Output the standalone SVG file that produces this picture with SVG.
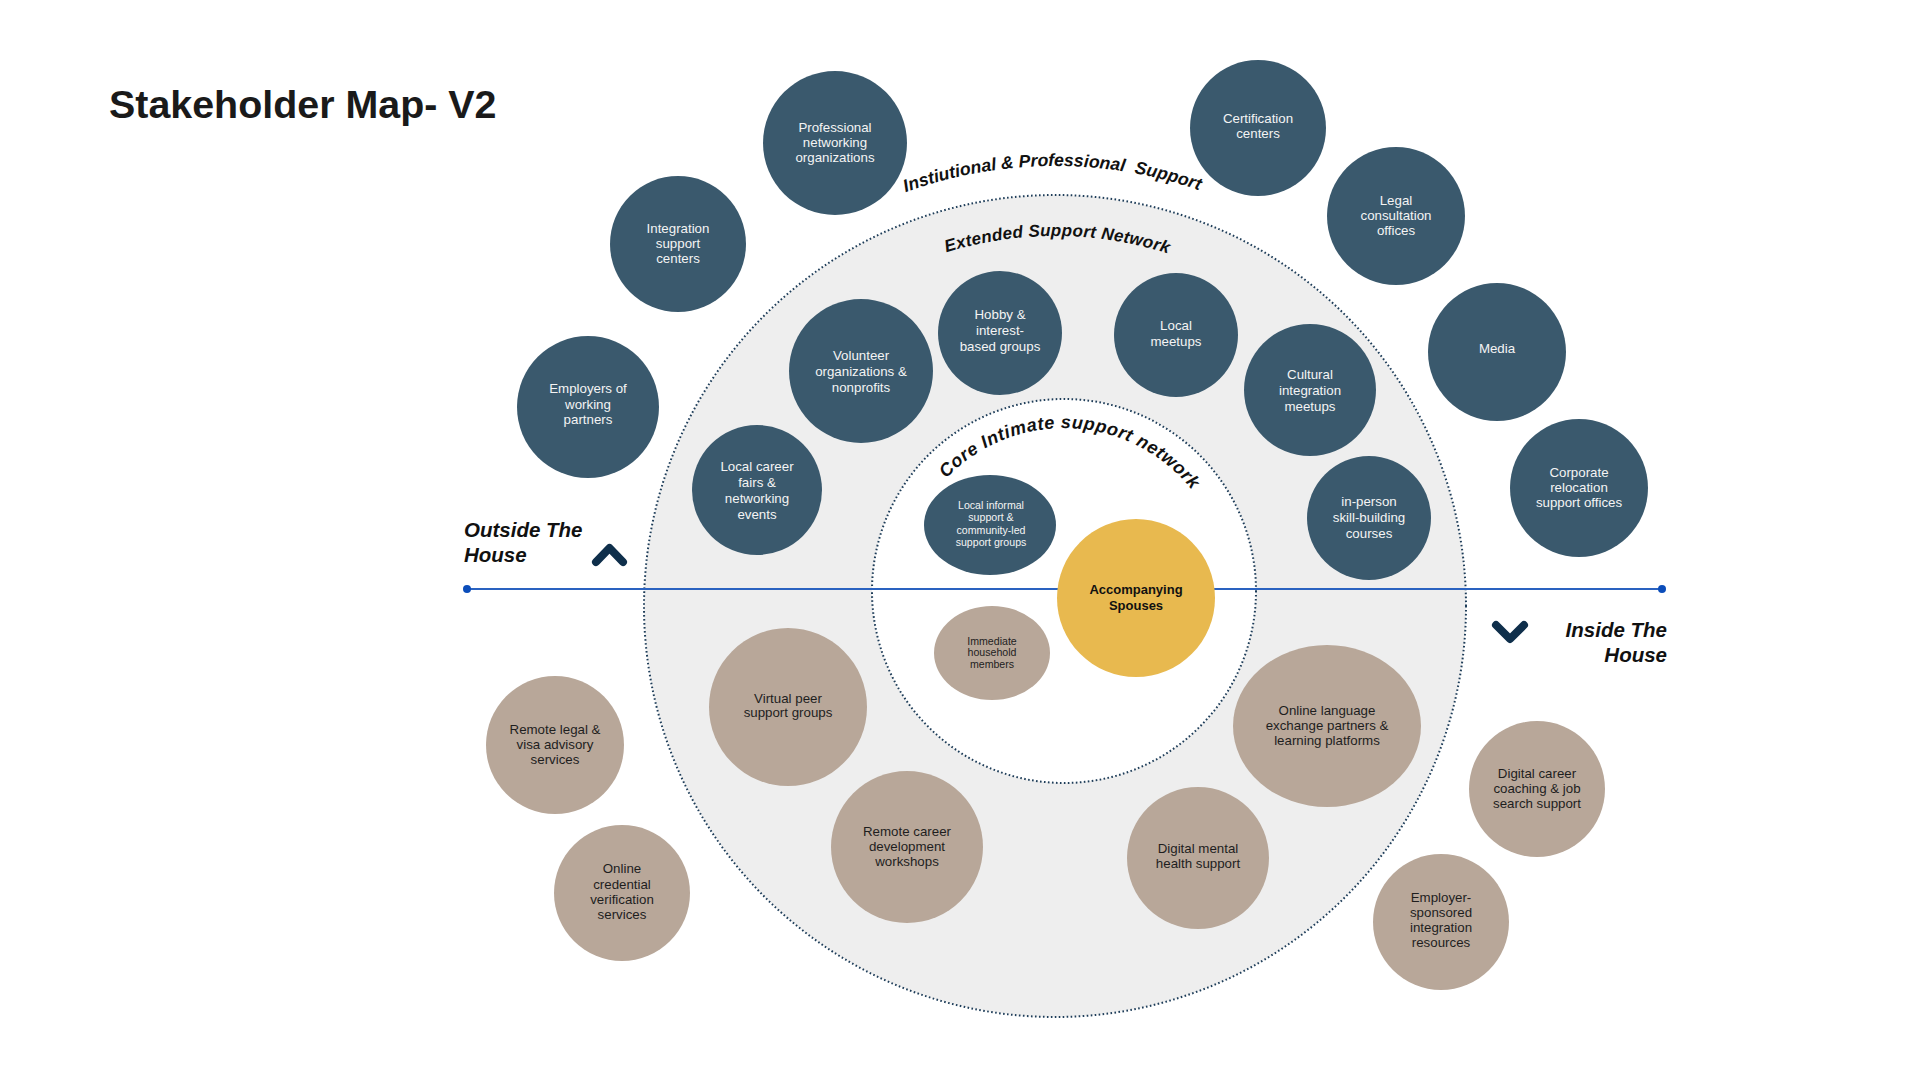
<svg xmlns="http://www.w3.org/2000/svg" width="1920" height="1080" viewBox="0 0 1920 1080">
<defs>
<style>
.dark{fill:#3A596D}
.tan{fill:#B8A799}
.yel{fill:#E8B94F}
.ring{fill:#EEEEEE;stroke:#1E3D59;stroke-width:2;stroke-dasharray:1.6 2.4}
.core{fill:#FFFFFF;stroke:#1E3D59;stroke-width:2;stroke-dasharray:1.6 2.4}
.lw{font-family:"Liberation Sans",Arial,sans-serif;font-size:13.3px;fill:#F4F4F4;text-anchor:middle}
.lb{font-family:"Liberation Sans",Arial,sans-serif;font-size:13.3px;fill:#1E1E1E;text-anchor:middle}
.sm{font-size:10.6px}
.bold{font-weight:bold;font-size:13px;fill:#111}
.arc{font-family:"Liberation Sans",Arial,sans-serif;font-weight:bold;font-style:italic;fill:#111}
.side{font-family:"Liberation Sans",Arial,sans-serif;font-weight:bold;font-style:italic;font-size:20.5px;fill:#111}
.title{font-family:"Liberation Sans",Arial,sans-serif;font-weight:bold;font-size:39.4px;fill:#1A1A1A}
.chev{fill:none;stroke:#0F2F4B;stroke-width:8;stroke-linecap:round;stroke-linejoin:round}
.axis{stroke:#2A62C0;stroke-width:2}
.dot{fill:#0B4DBA}
</style>
<path id="arcInst" d="M 615 606 A 440 440 0 0 1 1495 606"/>
<path id="arcExt" d="M 685 606 A 370 370 0 0 1 1425 606"/>
<path id="arcCore" d="M 901 591 A 163 163 0 0 1 1227 591"/>
</defs>
<rect width="1920" height="1080" fill="#FFFFFF"/>

<text class="title" x="109" y="118">Stakeholder Map- V2</text>

<g id="rings">
<circle class="ring" cx="1055" cy="606" r="411"/>
<circle class="core" cx="1064" cy="591" r="192"/>
</g>

<g id="ring-labels">
<text class="arc" font-size="17.6"><textPath href="#arcInst" startOffset="49.8%" text-anchor="middle" xml:space="preserve">Instiutional &amp; Professional  Support</textPath></text>
<text class="arc" font-size="17" letter-spacing="0.3"><textPath href="#arcExt" startOffset="50.2%" text-anchor="middle">Extended Support Network</textPath></text>
<text class="arc" font-size="18" letter-spacing="0.6"><textPath href="#arcCore" startOffset="51.5%" text-anchor="middle">Core Intimate support network</textPath></text>
</g>

<g id="connectors">
<line class="axis" x1="467" y1="589" x2="1662" y2="589"/>
<circle class="dot" cx="467" cy="589" r="4"/>
<circle class="dot" cx="1662" cy="589" r="4"/>
</g>

<g id="outside-label">
<text class="side" x="464" y="537">Outside The</text>
<text class="side" x="464" y="562">House</text>
<polyline class="chev" points="596,562 609.5,548 623,562"/>
</g>
<g id="inside-label">
<text class="side" x="1667" y="637" text-anchor="end">Inside The</text>
<text class="side" x="1667" y="662" text-anchor="end">House</text>
<polyline class="chev" points="1496,625 1510,639 1524,625"/>
</g>

<g id="professional-networking">
<circle class="dark" cx="835" cy="143" r="72"/>
<text class="lw"><tspan x="835" y="131.7">Professional</tspan><tspan x="835" y="146.7">networking</tspan><tspan x="835" y="161.7">organizations</tspan></text>
</g>
<g id="integration-support">
<circle class="dark" cx="678" cy="244" r="68"/>
<text class="lw"><tspan x="678" y="232.7">Integration</tspan><tspan x="678" y="247.7">support</tspan><tspan x="678" y="262.7">centers</tspan></text>
</g>
<g id="employers-partners">
<circle class="dark" cx="588" cy="407" r="71"/>
<text class="lw"><tspan x="588" y="392.7">Employers of</tspan><tspan x="588" y="408.7">working</tspan><tspan x="588" y="423.7">partners</tspan></text>
</g>
<g id="volunteer-orgs">
<circle class="dark" cx="861" cy="371" r="72"/>
<text class="lw"><tspan x="861" y="359.7">Volunteer</tspan><tspan x="861" y="375.7">organizations &amp;</tspan><tspan x="861" y="391.7">nonprofits</tspan></text>
</g>
<g id="local-career-fairs">
<circle class="dark" cx="757" cy="490" r="65"/>
<text class="lw"><tspan x="757" y="470.7">Local career</tspan><tspan x="757" y="486.7">fairs &amp;</tspan><tspan x="757" y="502.7">networking</tspan><tspan x="757" y="518.7">events</tspan></text>
</g>
<g id="hobby-groups">
<circle class="dark" cx="1000" cy="333" r="62"/>
<text class="lw"><tspan x="1000" y="318.7">Hobby &amp;</tspan><tspan x="1000" y="334.7">interest-</tspan><tspan x="1000" y="350.7">based groups</tspan></text>
</g>
<g id="local-meetups">
<circle class="dark" cx="1176" cy="335" r="62"/>
<text class="lw"><tspan x="1176" y="329.7">Local</tspan><tspan x="1176" y="345.7">meetups</tspan></text>
</g>
<g id="cultural-meetups">
<circle class="dark" cx="1310" cy="390" r="66"/>
<text class="lw"><tspan x="1310" y="378.7">Cultural</tspan><tspan x="1310" y="394.7">integration</tspan><tspan x="1310" y="410.7">meetups</tspan></text>
</g>
<g id="in-person-courses">
<circle class="dark" cx="1369" cy="518" r="62"/>
<text class="lw"><tspan x="1369" y="505.7">in-person</tspan><tspan x="1369" y="521.7">skill-building</tspan><tspan x="1369" y="537.7">courses</tspan></text>
</g>
<g id="local-informal-support">
<ellipse class="dark" cx="990" cy="525" rx="66" ry="50"/>
<text class="lw sm"><tspan x="991" y="509">Local informal</tspan><tspan x="991" y="521">support &amp;</tspan><tspan x="991" y="534">community-led</tspan><tspan x="991" y="546">support groups</tspan></text>
</g>
<g id="certification-centers">
<circle class="dark" cx="1258" cy="128" r="68"/>
<text class="lw"><tspan x="1258" y="122.7">Certification</tspan><tspan x="1258" y="137.7">centers</tspan></text>
</g>
<g id="legal-consultation">
<circle class="dark" cx="1396" cy="216" r="69"/>
<text class="lw"><tspan x="1396" y="204.7">Legal</tspan><tspan x="1396" y="219.7">consultation</tspan><tspan x="1396" y="234.7">offices</tspan></text>
</g>
<g id="media">
<circle class="dark" cx="1497" cy="352" r="69"/>
<text class="lw" x="1497" y="352.7">Media</text>
</g>
<g id="corporate-relocation">
<circle class="dark" cx="1579" cy="488" r="69"/>
<text class="lw"><tspan x="1579" y="476.7">Corporate</tspan><tspan x="1579" y="491.7">relocation</tspan><tspan x="1579" y="506.7">support offices</tspan></text>
</g>

<g id="immediate-household">
<ellipse class="tan" cx="992" cy="653" rx="58" ry="47"/>
<text class="lb sm"><tspan x="992" y="645">Immediate</tspan><tspan x="992" y="656">household</tspan><tspan x="992" y="668">members</tspan></text>
</g>
<g id="virtual-peer">
<circle class="tan" cx="788" cy="707" r="79"/>
<text class="lb"><tspan x="788" y="702.7">Virtual peer</tspan><tspan x="788" y="716.7">support groups</tspan></text>
</g>
<g id="remote-legal">
<circle class="tan" cx="555" cy="745" r="69"/>
<text class="lb"><tspan x="555" y="733.7">Remote legal &amp;</tspan><tspan x="555" y="748.7">visa advisory</tspan><tspan x="555" y="763.7">services</tspan></text>
</g>
<g id="online-credential">
<circle class="tan" cx="622" cy="893" r="68"/>
<text class="lb"><tspan x="622" y="872.7">Online</tspan><tspan x="622" y="888.7">credential</tspan><tspan x="622" y="903.7">verification</tspan><tspan x="622" y="918.7">services</tspan></text>
</g>
<g id="remote-career">
<circle class="tan" cx="907" cy="847" r="76"/>
<text class="lb"><tspan x="907" y="835.7">Remote career</tspan><tspan x="907" y="850.7">development</tspan><tspan x="907" y="865.7">workshops</tspan></text>
</g>
<g id="digital-mental-health">
<circle class="tan" cx="1198" cy="858" r="71"/>
<text class="lb"><tspan x="1198" y="852.7">Digital mental</tspan><tspan x="1198" y="867.7">health support</tspan></text>
</g>
<g id="online-language">
<ellipse class="tan" cx="1327" cy="726" rx="94" ry="81"/>
<text class="lb"><tspan x="1327" y="714.7">Online language</tspan><tspan x="1327" y="729.7">exchange partners &amp;</tspan><tspan x="1327" y="744.7">learning platforms</tspan></text>
</g>
<g id="digital-career">
<circle class="tan" cx="1537" cy="789" r="68"/>
<text class="lb"><tspan x="1537" y="777.7">Digital career</tspan><tspan x="1537" y="792.7">coaching &amp; job</tspan><tspan x="1537" y="807.7">search support</tspan></text>
</g>
<g id="employer-sponsored">
<circle class="tan" cx="1441" cy="922" r="68"/>
<text class="lb"><tspan x="1441" y="901.7">Employer-</tspan><tspan x="1441" y="916.7">sponsored</tspan><tspan x="1441" y="931.7">integration</tspan><tspan x="1441" y="946.7">resources</tspan></text>
</g>

<g id="accompanying-spouses">
<circle class="yel" cx="1136" cy="598" r="79"/>
<text class="lb bold"><tspan x="1136" y="593.6">Accompanying</tspan><tspan x="1136" y="609.6">Spouses</tspan></text>
</g>
</svg>
